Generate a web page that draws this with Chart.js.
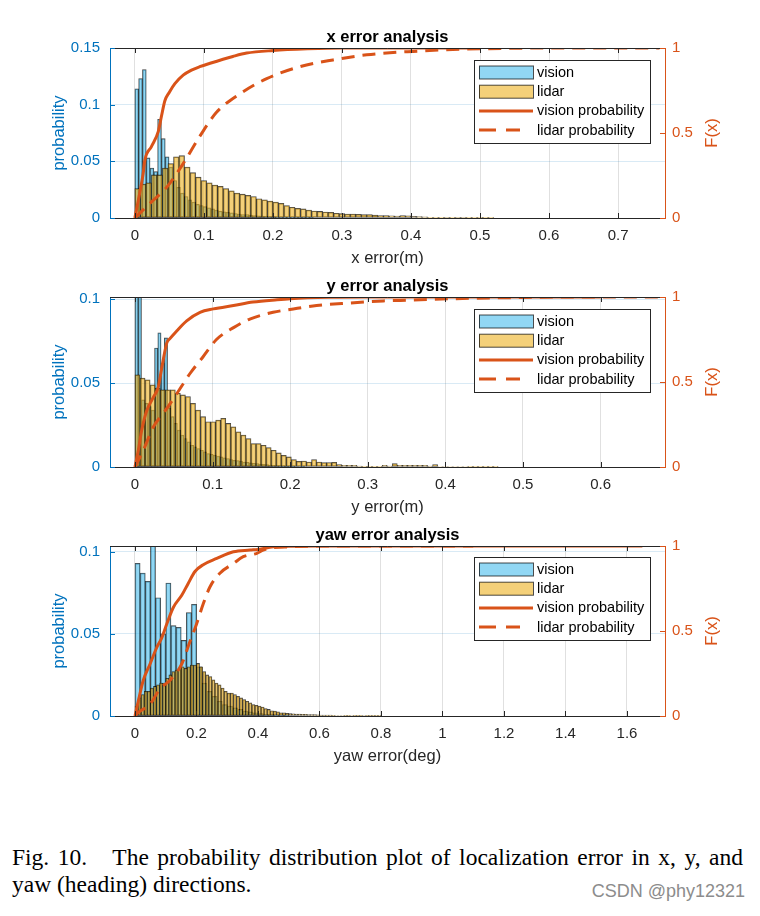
<!DOCTYPE html>
<html><head><meta charset="utf-8">
<script src="https://cdn.jsdelivr.net/npm/chart.js@4.4.0/dist/chart.umd.min.js"></script>
<style>
html,body{margin:0;padding:0;background:#fff;}
body{width:760px;height:916px;position:relative;overflow:hidden;}
canvas{position:absolute;left:0;}
#cap1{position:absolute;left:12px;top:844px;width:731px;font:23.5px 'Liberation Serif','Times New Roman',serif;color:#000;text-align:justify;text-align-last:justify;line-height:27px;}
#cap2{position:absolute;left:12px;top:871px;font:23.5px 'Liberation Serif','Times New Roman',serif;color:#000;line-height:27px;}
#wm{position:absolute;right:15px;top:881px;font:18px 'Liberation Sans',Arial,sans-serif;color:#8c8c8c;}
</style></head>
<body>
<canvas id="c1" width="760" height="275" style="top:0px"></canvas>
<canvas id="c2" width="760" height="275" style="top:249px"></canvas>
<canvas id="c3" width="760" height="275" style="top:498px"></canvas>
<div id="cap1">Fig. 10.&nbsp;&nbsp; The probability distribution plot of localization error in x, y, and</div>
<div id="cap2">yaw (heading) directions.</div>
<div id="wm">CSDN @phy12321</div>
<script>
// ---------- x error ----------
const xTicks = [0,0.1,0.2,0.3,0.4,0.5,0.6,0.7];
const xYTicks = [0,0.05,0.1,0.15];
const xVisionBinWidth = 0.0055;
const xVisionProb = [0.114,0.123,0.131,0.053,0.044,0.041,0.087,0.070,0.054,0.045,0.033,0.027,0.022,0.019,0.016,0.014,0.012,0.011,0.010,0.009,0.008,0.007,0.006,0.0055,0.005,0.0045,0.004,0.0035,0.003,0.003,0.0025,0.0022,0.002,0.0018,0.0015,0.0013,0.0012,0.001,0.0009,0.0008,0.0007,0.0006,0.0005,0.0005,0.0004,0.0003,0.0003];
const xLidarBinWidth = 0.008;
const xLidarProb = [0.026,0.030,0.031,0.038,0.038,0.044,0.048,0.054,0.055,0.045,
0.040,0.036,0.033,0.031,0.029,0.028,0.026,0.024,0.022,0.021,
0.020,0.019,0.017,0.016,0.015,0.014,0.013,0.011,0.0095,0.0085,
0.008,0.007,0.0062,0.0058,0.0053,0.005,0.0042,0.0038,0.0035,0.0035,
0.0032,0.003,0.003,0.0026,0.0022,0.0021,0.0019,0.0018,0.0022,0.002,
0.0014,0.0012,0.001,0.0007,0.0006,0.0006,0.0005,0.0006,0.0004,0.0004,
0.0003,0.0002,0.0003,0.0001,0.0001];
const xVisionCdfErr = [0,0.007,0.012,0.0145,0.024,0.034,0.0386,0.0435,0.05,0.058,0.07,0.082,0.094,0.109,0.142,0.162,0.2,0.25,0.3,0.5];
const xVisionCdf    = [0,0.145,0.26,0.34,0.42,0.51,0.60,0.69,0.74,0.79,0.84,0.87,0.89,0.91,0.95,0.97,0.985,0.995,1,1];
const xLidarCdfErr = [0,0.0217,0.046,0.07,0.094,0.118,0.152,0.191,0.239,0.287,0.336,0.379,0.403,0.45,0.5,0.6,0.76];
const xLidarCdf    = [0,0.086,0.18,0.32,0.48,0.62,0.73,0.82,0.89,0.93,0.96,0.975,0.98,0.99,0.995,1,1];

// ---------- y error ----------
const yTicks = [0,0.1,0.2,0.3,0.4,0.5,0.6];
const yYTicks = [0,0.05,0.1];
const yVisionBinWidth = 0.0042;
const yVisionProb = [0.105,0.115,0.040,0.038,0.036,0.034,0.071,0.080,0.062,0.077,0.035,0.030,0.026,0.022,0.019,0.017,0.015,0.013,0.012,0.011,0.010,0.009,0.008,0.0075,0.007,0.0065,0.006,0.0055,0.005,0.0045,0.004,0.0038,0.0035,0.003,0.0028,0.0025,0.0022,0.002,0.0018,0.0016,0.0014,0.0012,0.001,0.0009,0.0008,0.0007,0.0006,0.0005,0.0004,0.0003,0.0003,0.0002];
const yLidarBinWidth = 0.0065;
const yLidarProb = [0.055,0.053,0.052,0.049,0.047,0.046,0.046,0.046,0.044,0.043,
0.042,0.038,0.034,0.030,0.027,0.027,0.028,0.029,0.026,0.024,
0.021,0.019,0.017,0.014,0.014,0.013,0.0116,0.010,0.0084,0.007,
0.006,0.0044,0.0034,0.0036,0.003,0.0044,0.003,0.0026,0.0027,0.0028,
0.0014,0.001,0.001,0.001,0.0006,0.0004,0.0004,0.0004,0.0004,0.001,
0.0006,0.002,0.001,0.001,0.001,0.001,0.001,0.001,0.0006,0.0014,
0.0003,0.0003,0.0003,0.0003,0.0003,0.0003,0.0001,0.0001,0.0001,0.0001,
0.0001,0.0001];
const yVisionCdfErr = [0,0.0043,0.0086,0.015,0.0236,0.030,0.034,0.041,0.045,0.0537,0.0666,0.0838,0.101,0.127,0.152,0.183,0.2,0.25,0.3,0.6];
const yVisionCdf    = [0,0.098,0.215,0.33,0.41,0.47,0.57,0.73,0.755,0.80,0.86,0.91,0.93,0.95,0.97,0.984,0.99,0.998,1,1];
const yLidarCdfErr = [0,0.0107,0.0236,0.0387,0.0537,0.0709,0.088,0.105,0.127,0.148,0.178,0.204,0.234,0.277,0.32,0.342,0.41,0.5,0.55,0.68];
const yLidarCdf    = [0,0.098,0.235,0.33,0.43,0.55,0.65,0.75,0.82,0.87,0.91,0.93,0.95,0.965,0.977,0.98,0.99,0.997,1,1];

// ---------- yaw error ----------
const yawTicks = [0,0.2,0.4,0.6,0.8,1,1.2,1.4,1.6];
const yawYTicks = [0,0.05,0.1];
const yawVisionBinWidth = 0.0167;
const yawVisionProb = [0.093,0.087,0.082,0.11,0.072,0.05,0.081,0.055,0.054,0.046,0.063,0.068,0.03,0.02,0.015,0.012,0.009,0.007,0.006,0.005,0.004,0.003,0.0025,0.002,0.0015,0.001,0.001,0.0008,0.0006,0.0005];
const yawLidarBinWidth = 0.01;
const yawLidarProb = [0.006,0.011,0.013,0.015,0.015,0.017,0.018,0.019,0.020,0.020,
0.023,0.025,0.027,0.028,0.029,0.030,0.029,0.030,0.031,0.031,
0.032,0.030,0.027,0.025,0.024,0.022,0.020,0.019,0.017,0.015,
0.014,0.014,0.013,0.012,0.011,0.010,0.009,0.008,0.007,0.0065,
0.006,0.0055,0.0045,0.004,0.0032,0.003,0.0025,0.002,0.002,0.0016,
0.0014,0.0013,0.0012,0.0011,0.001,0.001,0.0009,0.0008,0.0008,0.0007,
0.0006,0.0006,0.0005,0.0005,0.0004,0.0003,0.0003,0.0003,0.0002,0.0002,
0.0003,0.0002,0.0001,0.0002,0.0003,0.0001,0.0001,0.0002,0.0001,0.0001];
const yawVisionCdfErr = [0,0.011,0.027,0.049,0.07,0.087,0.103,0.125,0.152,0.173,0.195,0.222,0.266,0.32,0.374,0.4,0.45,0.5,0.6,1.65];
const yawVisionCdf    = [0,0.09,0.21,0.306,0.40,0.46,0.54,0.64,0.71,0.78,0.85,0.89,0.927,0.966,0.976,0.98,0.995,0.998,1,1];
const yawLidarCdfErr = [0,0.01,0.049,0.081,0.114,0.152,0.179,0.2,0.222,0.244,0.276,0.32,0.352,0.396,0.417,0.45,0.5,0.6,1.1];
const yawLidarCdf    = [0,0.02,0.069,0.16,0.21,0.306,0.44,0.54,0.66,0.76,0.84,0.897,0.937,0.957,0.976,0.99,0.995,1,1];

const rightTicks = [0,0.5,1];
const legendLabels = ['vision','lidar','vision probability','lidar probability'];

const BLUE = '#0072BD', ORANGE = '#D95319', AXIS = '#262626';
const FONT = "'Liberation Sans', Arial, Helvetica, sans-serif";
const VFILL = 'rgba(77,190,238,0.62)', LFILL = 'rgba(237,177,32,0.6)', EDGE = 'rgba(0,0,0,0.72)';
const PLOT_W = 760 - 110 - 95;   // width of the plotting area in px

function bins(vals, w) { return vals.map((v, i) => ({x: (i + 0.5) * w, y: v})); }
function pts(xs, ys) { return xs.map((x, i) => ({x: x, y: ys[i]})); }

function makeFrame(spec) {
  return {
    id: 'frame',
    afterDraw(chart) {
      const {ctx, chartArea: ca, scales} = chart;
      ctx.save();
      ctx.strokeStyle = AXIS; ctx.lineWidth = 1;
      ctx.beginPath(); ctx.moveTo(ca.left, ca.top + 0.5); ctx.lineTo(ca.right, ca.top + 0.5); ctx.stroke();
      ctx.beginPath();
      spec.xTicks.forEach(v => {
        const p = Math.round(scales.x.getPixelForValue(v)) + 0.5;
        ctx.moveTo(p, ca.bottom); ctx.lineTo(p, ca.bottom - 5);
        ctx.moveTo(p, ca.top); ctx.lineTo(p, ca.top + 5);
      });
      ctx.stroke();
      ctx.strokeStyle = BLUE; ctx.beginPath();
      spec.yTicks.forEach(v => {
        const p = Math.round(scales.y.getPixelForValue(v)) + 0.5;
        ctx.moveTo(ca.left, p); ctx.lineTo(ca.left + 5, p);
      });
      ctx.stroke();
      ctx.strokeStyle = ORANGE; ctx.beginPath();
      rightTicks.forEach(v => {
        const p = Math.round(scales.y2.getPixelForValue(v)) + 0.5;
        ctx.moveTo(ca.right, p); ctx.lineTo(ca.right - 5, p);
      });
      ctx.stroke();
      ctx.fillStyle = '#000'; ctx.textAlign = 'center'; ctx.textBaseline = 'middle';
      ctx.font = 'bold 16.5px ' + FONT;
      ctx.fillText(spec.title, (ca.left + ca.right) / 2, ca.top - 11);
      ctx.save();
      ctx.translate(712, (ca.top + ca.bottom) / 2);
      ctx.rotate(-Math.PI / 2);
      ctx.fillStyle = ORANGE; ctx.font = '16.5px ' + FONT;
      ctx.fillText('F(x)', 0, 0);
      ctx.restore();
      const w = 176, h = 83;
      const x0 = ca.right - 15 - w, y0 = ca.top + spec.legendTop;
      ctx.fillStyle = '#fff'; ctx.fillRect(x0, y0, w, h);
      ctx.strokeStyle = AXIS; ctx.lineWidth = 1;
      ctx.strokeRect(Math.round(x0) + 0.5, Math.round(y0) + 0.5, w, h);
      ctx.font = '14.5px ' + FONT; ctx.textAlign = 'left';
      legendLabels.forEach((lab, i) => {
        const yc = y0 + 12.5 + i * 19.2;
        if (i < 2) {
          ctx.fillStyle = i === 0 ? VFILL : LFILL;
          ctx.fillRect(x0 + 5, yc - 6.5, 54, 13);
          ctx.strokeStyle = 'rgba(0,0,0,0.7)'; ctx.lineWidth = 1;
          ctx.strokeRect(x0 + 5.5, yc - 6.5, 54, 13);
        } else {
          ctx.strokeStyle = ORANGE; ctx.lineWidth = 3;
          ctx.setLineDash(i === 3 ? [17, 10] : []);
          ctx.beginPath(); ctx.moveTo(x0 + 5, yc); ctx.lineTo(x0 + (i === 3 ? 46 : 59), yc); ctx.stroke();
          ctx.setLineDash([]);
        }
        ctx.fillStyle = '#000';
        ctx.fillText(lab, x0 + 63, yc + 0.5);
      });
      ctx.restore();
    }
  };
}

function makeChart(id, spec) {
  const fixTicks = arr => (s => { s.ticks = arr.map(v => ({value: v})); });
  const pxPerUnit = PLOT_W / (spec.xMax - spec.xMin);
  return new Chart(document.getElementById(id), {
    data: {
      datasets: [
        {type: 'line', label: legendLabels[2], data: pts(spec.vCdfX, spec.vCdf), xAxisID: 'x', yAxisID: 'y2',
         borderColor: ORANGE, borderWidth: 3, pointRadius: 0, cubicInterpolationMode: 'monotone', order: 0},
        {type: 'line', label: legendLabels[3], data: pts(spec.lCdfX, spec.lCdf), xAxisID: 'x', yAxisID: 'y2',
         borderColor: ORANGE, borderWidth: 3, borderDash: [13, 8], pointRadius: 0, cubicInterpolationMode: 'monotone', order: 1},
        {type: 'bar', label: legendLabels[1], data: bins(spec.lProb, spec.lW), xAxisID: 'x', yAxisID: 'y', stack: 'hist',
         backgroundColor: LFILL, borderColor: EDGE, borderWidth: 0.8, borderSkipped: false,
         barThickness: spec.lW * pxPerUnit, order: 2},
        {type: 'bar', label: legendLabels[0], data: bins(spec.vProb, spec.vW), xAxisID: 'x', yAxisID: 'y', stack: 'hist',
         backgroundColor: VFILL, borderColor: EDGE, borderWidth: 0.8, borderSkipped: false,
         barThickness: spec.vW * pxPerUnit, order: 3}
      ]
    },
    options: {
      responsive: false, animation: false,
      layout: {padding: {top: 48, left: 0, right: 0, bottom: 0}},
      plugins: {legend: {display: false}, tooltip: {enabled: false}, title: {display: false}},
      scales: {
        x: {type: 'linear', position: 'bottom', min: spec.xMin, max: spec.xMax, offset: false,
            afterBuildTicks: fixTicks(spec.xTicks), afterFit: s => { s.height = 57; },
            ticks: {color: AXIS, font: {size: 15, family: FONT}, padding: 9, autoSkip: false, maxRotation: 0,
                    callback: v => String(v)},
            grid: {color: 'rgba(38,38,38,0.14)', drawTicks: false, offset: false},
            border: {color: AXIS, width: 1},
            title: {display: true, text: spec.xTitle, color: AXIS, font: {size: 16.5, family: FONT}, padding: {top: 0, bottom: 7}}},
        y: {type: 'linear', position: 'left', min: 0, max: spec.yMax, stacked: false,
            afterBuildTicks: fixTicks(spec.yTicks), afterFit: s => { s.width = 110; },
            ticks: {color: BLUE, font: {size: 15, family: FONT}, padding: 10, callback: v => String(v)},
            grid: {color: 'rgba(0,114,189,0.15)', drawTicks: false},
            border: {color: BLUE, width: 1},
            title: {display: true, text: 'probability', color: BLUE, font: {size: 16.5, family: FONT}, padding: {top: 50, bottom: 0}}},
        y2: {type: 'linear', position: 'right', min: 0, max: 1,
            afterBuildTicks: fixTicks(rightTicks), afterFit: s => { s.width = 95; },
            ticks: {color: ORANGE, font: {size: 15, family: FONT}, padding: 7, callback: v => String(v)},
            grid: {display: false, drawTicks: false},
            border: {color: ORANGE, width: 1}}
      }
    },
    plugins: [makeFrame(spec)]
  });
}

makeChart('c1', {title: 'x error analysis', xTitle: 'x error(m)', xMin: -0.036, xMax: 0.768, yMax: 0.15,
  xTicks: xTicks, yTicks: xYTicks, legendTop: 12,
  vProb: xVisionProb, vW: xVisionBinWidth, lProb: xLidarProb, lW: xLidarBinWidth,
  vCdfX: xVisionCdfErr, vCdf: xVisionCdf, lCdfX: xLidarCdfErr, lCdf: xLidarCdf});
makeChart('c2', {title: 'y error analysis', xTitle: 'y error(m)', xMin: -0.0322, xMax: 0.683, yMax: 0.1014,
  xTicks: yTicks, yTicks: yYTicks, legendTop: 12,
  vProb: yVisionProb, vW: yVisionBinWidth, lProb: yLidarProb, lW: yLidarBinWidth,
  vCdfX: yVisionCdfErr, vCdf: yVisionCdf, lCdfX: yLidarCdfErr, lCdf: yLidarCdf});
makeChart('c3', {title: 'yaw error analysis', xTitle: 'yaw error(deg)', xMin: -0.0813, xMax: 1.7236, yMax: 0.1035,
  xTicks: yawTicks, yTicks: yawYTicks, legendTop: 11,
  vProb: yawVisionProb, vW: yawVisionBinWidth, lProb: yawLidarProb, lW: yawLidarBinWidth,
  vCdfX: yawVisionCdfErr, vCdf: yawVisionCdf, lCdfX: yawLidarCdfErr, lCdf: yawLidarCdf});
</script>
</body></html>
